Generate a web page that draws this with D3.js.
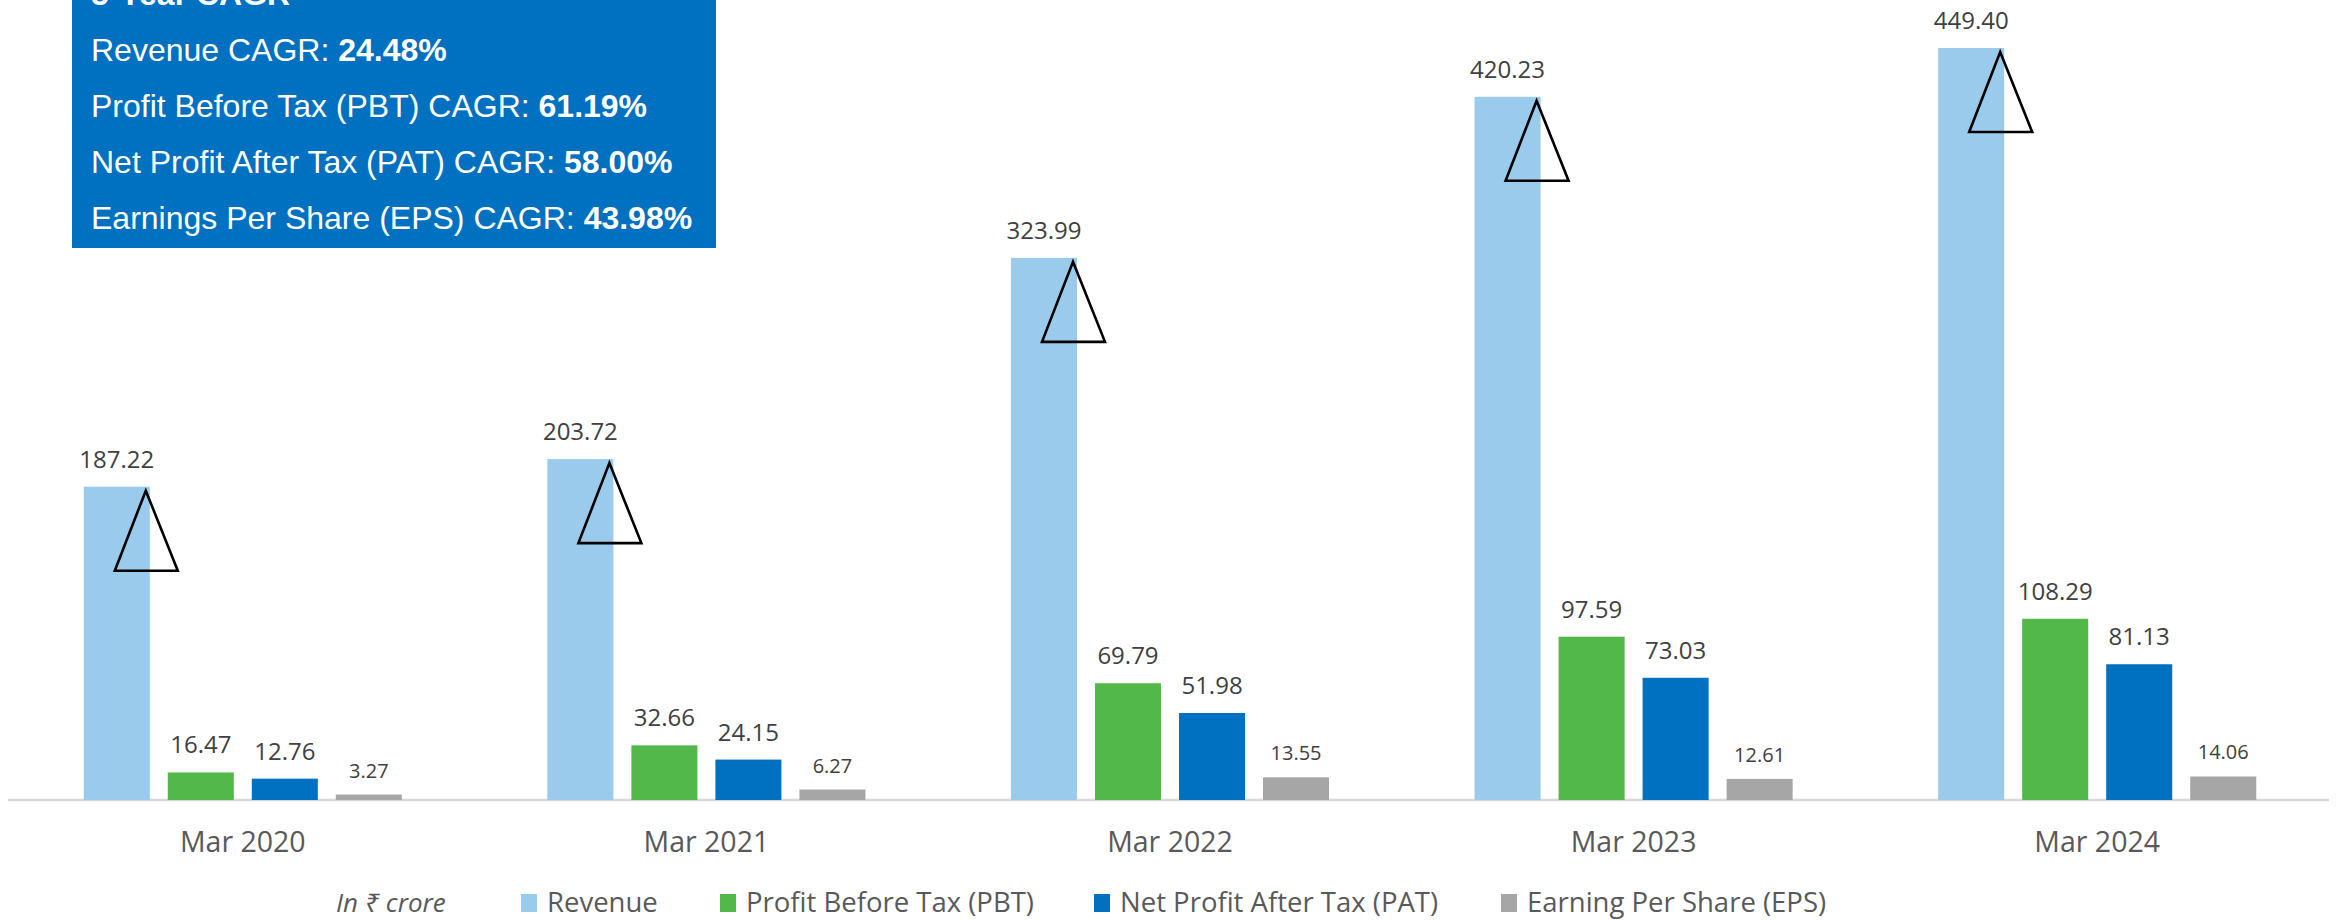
<!DOCTYPE html>
<html>
<head>
<meta charset="utf-8">
<script src="https://cdn.jsdelivr.net/npm/d3@7"></script>
<style>
body { margin: 0; background: #fff; }
svg { display: block; }
</style>
</head>
<body>
<div id="chart"></div>
<script>
// data
const years = ["Mar 2020", "Mar 2021", "Mar 2022", "Mar 2023", "Mar 2024"];
const seriesNames = ["Revenue", "Profit Before Tax (PBT)", "Net Profit After Tax (PAT)", "Earning Per Share (EPS)"];
const revenue = [187.22, 203.72, 323.99, 420.23, 449.40];
const pbt = [16.47, 32.66, 69.79, 97.59, 108.29];
const pat = [12.76, 24.15, 51.98, 73.03, 81.13];
const eps = [3.27, 6.27, 13.55, 12.61, 14.06];
const cagrTitle = "5-Year CAGR";
const cagrLabels = ["Revenue CAGR: ", "Profit Before Tax (PBT) CAGR: ", "Net Profit After Tax (PAT) CAGR: ", "Earnings Per Share (EPS) CAGR: "];
const cagrValues = ["24.48%", "61.19%", "58.00%", "43.98%"];
const unitLabel = "In ₹ crore";
const colors = ["#9ACBEC", "#52B84A", "#0070C0", "#A6A6A6"];

const width = 2344, height = 920;

const rows = years.map((yr, i) => ({
    year: yr,
    values: [revenue[i], pbt[i], pat[i], eps[i]]
}));

const svg = d3.select("#chart")
    .append("svg")
    .attr("width", width)
    .attr("height", height);

//scales
const x0 = d3.scaleBand()
    .domain(years)
    .range([11, 2329])
    .paddingInner(0)
    .paddingOuter(0);

const x1 = d3.scaleBand()
    .domain(d3.range(seriesNames.length))
    .range([0, x0.bandwidth()])
    .paddingInner(0.214)
    .paddingOuter(0.866);

const y = d3.scaleLinear()
    .domain([0, 500])
    .range([800, -36.7]);

//x axis
const xAxis = d3.axisBottom(x0).tickSize(0).tickSizeOuter(0);
const axisG = svg.append("g")
    .attr("transform", `translate(0,${y(0)})`)
    .call(xAxis);
axisG.select(".domain")
    .attr("stroke", "#D9D9D9")
    .attr("stroke-width", 2.5)
    .attr("d", `M8,0H2329`);
axisG.selectAll(".tick text")
    .attr("y", 52)
    .attr("dy", 0)
    .attr("fill", "#595959")
    .style("font-family", "'Open Sans', sans-serif")
    .style("font-size", "28.5px");

//bars
const groups = svg.append("g")
    .selectAll("g")
    .data(rows)
    .enter()
    .append("g")
    .attr("transform", d => `translate(${x0(d.year)},0)`);

groups.selectAll("rect")
    .data(d => d.values)
    .enter()
    .append("rect")
    .attr("x", (d, i) => x1(i))
    .attr("y", d => y(d))
    .attr("width", x1.bandwidth())
    .attr("height", d => y(0) - y(d))
    .attr("fill", (d, i) => colors[i]);

// growth arrows on the revenue bars
groups.append("path")
    .attr("d", d => {
        const r = x1(0) + x1.bandwidth();
        const t = y(d.values[0]);
        return `M${r - 4},${t + 4}L${r + 28},${t + 84}L${r - 35},${t + 84}Z`;
    })
    .attr("fill", "none")
    .attr("stroke", "#000")
    .attr("stroke-width", 2.6)
    .attr("stroke-linejoin", "miter");

//value labels
groups.selectAll("text.value")
    .data(d => d.values)
    .enter()
    .append("text")
    .attr("class", "value")
    .attr("x", (d, i) => x1(i) + x1.bandwidth() / 2)
    .attr("y", (d, i) => y(d) - (i === 3 ? 17 : 19))
    .attr("text-anchor", "middle")
    .attr("fill", "#404040")
    .style("font-family", "'Open Sans', sans-serif")
    .style("font-size", (d, i) => i === 3 ? "20px" : "24px")
    .text(d => d.toFixed(2));

//CAGR box
const box = svg.append("g");
box.append("rect")
    .attr("x", 72)
    .attr("y", -60)
    .attr("width", 644)
    .attr("height", 308)
    .attr("fill", "#0070C0");

box.append("text")
    .attr("x", 91)
    .attr("y", 5)
    .attr("fill", "#fff")
    .style("font-family", "'Liberation Sans', Arial, sans-serif")
    .style("font-size", "32px")
    .style("font-weight", "bold")
    .text(cagrTitle);

const lines = box.selectAll("text.cagr")
    .data(cagrLabels)
    .enter()
    .append("text")
    .attr("class", "cagr")
    .attr("x", 91)
    .attr("y", (d, i) => 61 + i * 56)
    .attr("fill", "#fff")
    .style("font-family", "'Liberation Sans', Arial, sans-serif")
    .style("font-size", "32px");
lines.append("tspan").text(d => d);
lines.append("tspan")
    .style("font-weight", "bold")
    .text((d, i) => cagrValues[i]);

//legend
const legend = svg.append("g")
    .attr("transform", "translate(0,912)");

legend.append("text")
    .attr("x", 336)
    .attr("y", 0)
    .attr("fill", "#595959")
    .style("font-family", "'Open Sans', 'Noto Sans', sans-serif")
    .style("font-size", "26px")
    .style("font-style", "italic")
    .text(unitLabel);

const legendX = [521, 720, 1094, 1501];
const items = legend.selectAll("g.item")
    .data(seriesNames)
    .enter()
    .append("g")
    .attr("class", "item")
    .attr("transform", (d, i) => `translate(${legendX[i]},0)`);
items.append("rect")
    .attr("y", -18)
    .attr("width", 16)
    .attr("height", 18)
    .attr("fill", (d, i) => colors[i]);
items.append("text")
    .attr("x", 26)
    .attr("fill", "#595959")
    .style("font-family", "'Open Sans', sans-serif")
    .style("font-size", "27.5px")
    .text(d => d);
</script>
</body>
</html>
